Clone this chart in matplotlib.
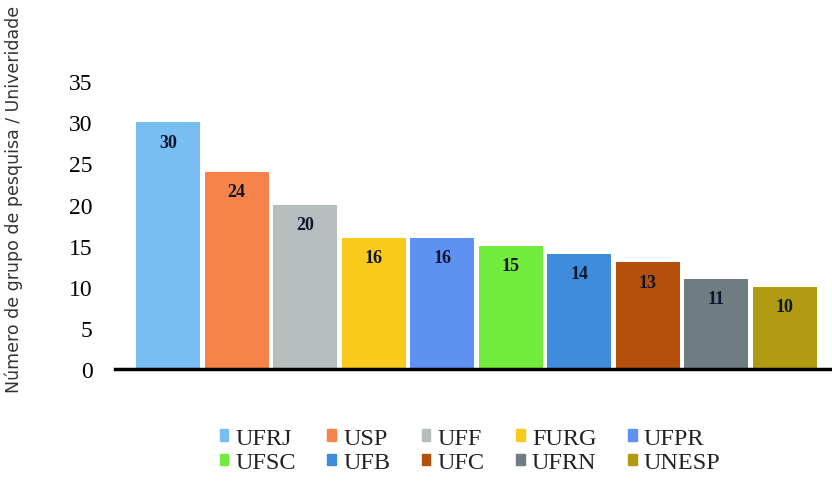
import matplotlib.pyplot as plt
from matplotlib.patches import Patch

universidades = ["UFRJ", "USP", "UFF", "FURG", "UFPR", "UFSC", "UFB", "UFC", "UFRN", "UNESP"]
grupos = [30, 24, 20, 16, 16, 15, 14, 13, 11, 10]
cores = ["#78BEF2", "#F6844A", "#B5BDBD", "#F9C91C", "#5E91F2",
         "#72EC3C", "#3F8BDC", "#B4500B", "#6F7D82", "#B09A12"]

serif = "Liberation Serif"

fig = plt.figure(figsize=(8.32, 4.89), dpi=100)
ax = fig.add_axes([0.138, 0.243, 0.862, 0.589])

x = list(range(len(grupos)))
ax.bar(x, grupos, width=0.93, color=cores)

for i, v in enumerate(grupos):
    ax.text(i, v - 1.4, str(v), ha="center", va="top", fontsize=13,
            fontweight="bold", family=serif, color="#10152E")

ax.set_xlim(-0.78, 9.69)
ax.set_ylim(0, 35)
ax.set_yticks(range(0, 36, 5))
ax.set_xticks([])
ax.tick_params(axis="y", length=0, pad=16, labelsize=17)
for lbl in ax.get_yticklabels():
    lbl.set_family(serif)

for s in ["top", "right", "left"]:
    ax.spines[s].set_visible(False)
ax.spines["bottom"].set_linewidth(2.5)
ax.spines["bottom"].set_color("black")

fig.text(0.016, 0.592, "Número de grupo de pesquisa / Univeridade", rotation=90,
         ha="center", va="center", fontsize=12.5, color="#333333")

# legend filled column-wise, so interleave rows
ordem = [0, 5, 1, 6, 2, 7, 3, 8, 4, 9]
handles = [Patch(color=cores[i], label=universidades[i]) for i in ordem]
fig.legend(handles=handles, ncol=5, loc="center", bbox_to_anchor=(0.565, 0.077),
           frameon=False, prop={"family": serif, "size": 17.5},
           handlelength=0.35, handleheight=0.35, handletextpad=0.3,
           columnspacing=1.3, labelspacing=0.15, labelcolor="#222222")

fig.savefig("out.png")
